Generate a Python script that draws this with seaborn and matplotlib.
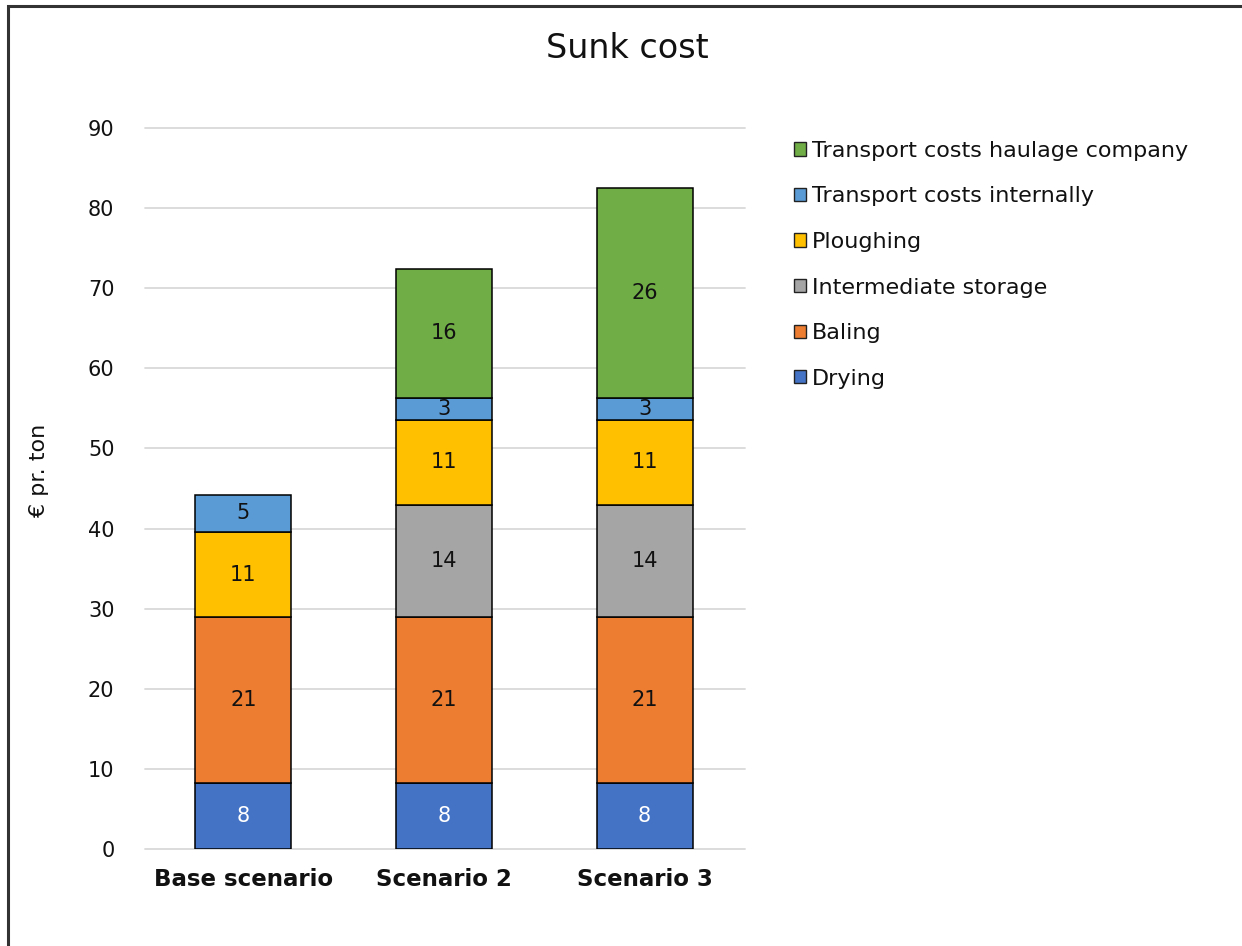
import numpy as np
import pandas as pd
import matplotlib
matplotlib.use("Agg")
import matplotlib.pyplot as plt
from matplotlib.patches import Patch, Rectangle
import seaborn as sns

# Scenarios and cost components (€ per ton), stacked bottom to top
scenarios = ["Base scenario", "Scenario 2", "Scenario 3"]
components = ["Drying", "Baling", "Intermediate storage", "Ploughing",
              "Transport costs internally", "Transport costs haulage company"]
drying = [8.2, 8.2, 8.2]
baling = [20.7, 20.7, 20.7]
intermediate_storage = [0.0, 14.0, 14.0]
ploughing = [10.7, 10.7, 10.7]
transport_internal = [4.6, 2.7, 2.7]
transport_haulage = [0.0, 16.1, 26.2]

colors = {
    "Drying": "#4472C4",
    "Baling": "#ED7D31",
    "Intermediate storage": "#A5A5A5",
    "Ploughing": "#FFC000",
    "Transport costs internally": "#5B9BD5",
    "Transport costs haulage company": "#70AD47",
}
label_colors = {"Drying": "white"}

series = [drying, baling, intermediate_storage, ploughing,
          transport_internal, transport_haulage]
df = pd.DataFrame({"scenario": scenarios})
for name, vals in zip(components, series):
    df[name] = vals

sns.set_theme(style="white")
plt.rcParams["font.family"] = ["DejaVu Sans"]

fig = plt.figure(figsize=(12.42, 9.46), dpi=100)
ax = fig.add_axes([145 / 1242, 1 - 849 / 946, 600 / 1242, (849 - 128) / 946])

cum = np.zeros(len(scenarios))
for name in components:
    vals = df[name].to_numpy()
    mask = vals > 0
    sub = df.loc[mask, ["scenario", name]]
    n_before = len(ax.containers)
    sns.barplot(data=sub, x="scenario", y=name, order=scenarios,
                bottom=cum[mask], color=colors[name], saturation=1,
                width=0.48, edgecolor="black", linewidth=1.1, ax=ax,
                errorbar=None)
    cont = ax.containers[n_before]
    ax.bar_label(cont, labels=[f"{v:.0f}" for v in vals[mask]],
                 label_type="center", fontsize=15,
                 color=label_colors.get(name, "#111111"))
    cum = cum + vals

ax.set_xlim(-0.49, 2.5)
ax.set_ylim(0, 90)
ax.set_yticks(range(0, 91, 10))
ax.yaxis.grid(True, color="#D9D9D9", linewidth=1.3)
for gl in ax.get_ygridlines():
    gl.set_clip_on(False)
ax.set_axisbelow(True)
for s in ax.spines.values():
    s.set_visible(False)
ax.tick_params(axis="both", length=0)
ax.tick_params(axis="y", labelsize=15, pad=22, labelcolor="#111111")
ax.tick_params(axis="x", labelsize=16.5, pad=14)
for t in ax.get_xticklabels():
    t.set_fontweight("bold")
    t.set_color("#111111")
ax.set_xlabel("")
ax.set_ylabel("€ pr. ton", fontsize=16, color="#111111")
ax.yaxis.set_label_coords(-0.16, 0.525)

fig.text(627 / 1242, 1 - 49 / 946, "Sunk cost", ha="center", va="center",
         fontsize=24, color="#111111")

handles = [Patch(facecolor=colors[c], edgecolor="#222222", linewidth=1.0, label=c)
           for c in reversed(components)]
fig.legend(handles=handles, loc="upper left",
           bbox_to_anchor=(785 / 1242, 1 - 132 / 946), frameon=False,
           fontsize=16, handlelength=0.55, handleheight=0.55, handletextpad=0.25,
           labelspacing=1.15, borderaxespad=0, labelcolor="#111111")

fig.patches.append(Rectangle((8 / 1242, -0.05), 1.1, 1 - 6 / 946 + 0.05,
                             transform=fig.transFigure, fill=False,
                             edgecolor="#333333", linewidth=2.2))

fig.savefig("out.png", dpi=100, facecolor="white")
